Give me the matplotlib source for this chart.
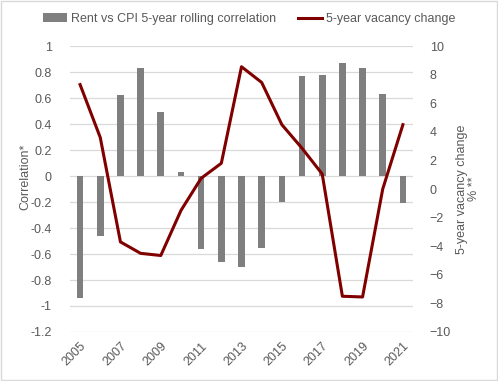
import numpy as np
import matplotlib.pyplot as plt
from matplotlib.patches import Rectangle

plt.rcParams['font.family'] = ['Liberation Sans', 'DejaVu Sans']

# Dados
years = list(range(2005, 2022))
correlation = [-0.94, -0.46, 0.62, 0.83, 0.49, 0.03, -0.56, -0.66, -0.70, -0.55,
               -0.20, 0.77, 0.78, 0.87, 0.83, 0.63, -0.21]
vacancy_change = [7.3, 3.6, -3.7, -4.5, -4.65, -1.5, 0.75, 1.8, 8.55, 7.45,
                  4.5, 2.85, 1.05, -7.5, -7.55, 0.0, 4.5]

grey_text = '#595959'
x = np.arange(len(years))

fig = plt.figure(figsize=(4.98, 3.81), dpi=100)
ax = fig.add_axes([70 / 498, 1 - 332 / 381, (413 - 70) / 498, (332 - 46) / 381])
ax2 = ax.twinx()

bars = ax.bar(x, correlation, width=0.33, color='#7f7f7f', zorder=2,
              label='Rent vs CPI 5-year rolling correlation')
line, = ax2.plot(x, vacancy_change, color='#800000', linewidth=2.2,
                 label='5-year vacancy change', zorder=3)

ax.set_xlim(-0.5, len(years) - 0.5)
ax.set_ylim(-1.2, 1.0)
ax.set_yticks(np.arange(-1.2, 1.01, 0.2))
ax.set_yticklabels(['-1.2', '-1', '-0.8', '-0.6', '-0.4', '-0.2', '0',
                    '0.2', '0.4', '0.6', '0.8', '1'])
ax2.set_ylim(-10, 10)
ax2.set_yticks(np.arange(-10, 11, 2))

ax.grid(axis='y', color='#d9d9d9', linewidth=0.9, zorder=0)
ax.set_xticks(x[::2])
ax.set_xticklabels([str(y) for y in years[::2]], rotation=45, ha='right',
                   rotation_mode='anchor')

for a in (ax, ax2):
    for s in a.spines.values():
        s.set_visible(False)
    a.tick_params(length=0, colors=grey_text, labelsize=9)
ax.tick_params(axis='x', pad=6)
ax.tick_params(axis='y', pad=13)
ax2.tick_params(axis='y', pad=12)

# Títulos dos eixos
fig.text(25 / 498, 1 - 177 / 381, 'Correlation*', rotation=90, color=grey_text,
         fontsize=9, ha='center', va='center')
fig.text(468 / 498, 1 - 189 / 381, '5-year vacancy change\n% **', rotation=90,
         color=grey_text, fontsize=9, ha='center', va='center', linespacing=1.05,
         multialignment='center')

fig.legend(handles=[bars, line], loc='center', bbox_to_anchor=(0.5, 1 - 19 / 381),
           ncol=2, frameon=False, fontsize=9, labelcolor=grey_text,
           handlelength=1.9, handletextpad=0.3, columnspacing=1.8)

fig.patches.append(Rectangle((0.002, 0.002), 0.996, 0.996, transform=fig.transFigure,
                             fill=False, edgecolor='#d9d9d9', linewidth=1))

fig.savefig('out.png', dpi=100)
